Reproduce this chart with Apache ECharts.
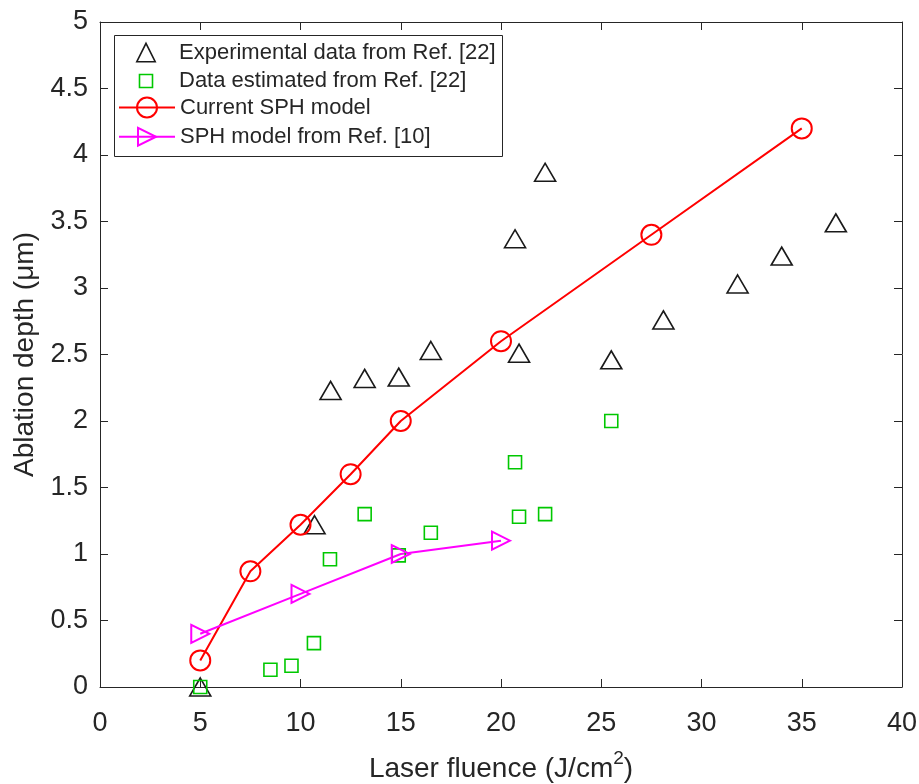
<!DOCTYPE html>
<html>
<head>
<meta charset="utf-8">
<script src="https://cdn.jsdelivr.net/npm/echarts@6/dist/echarts.min.js"></script>
<style>
  html, body { margin: 0; padding: 0; background: #fff; }
  #chart { width: 919px; height: 784px; }
</style>
</head>
<body>
<div id="chart"></div>
<script>
// Experimental data from Ref. [22]
const expX = [5, 10.7, 11.5, 13.2, 14.9, 16.5, 20.7, 20.9, 22.2, 25.5, 28.1, 31.8, 34.0, 36.7];
const expY = [0, 1.22, 2.23, 2.32, 2.33, 2.53, 3.37, 2.51, 3.87, 2.46, 2.76, 3.03, 3.24, 3.49];

// Data estimated from Ref. [22]
const estX = [5, 8.5, 9.55, 10.67, 11.47, 13.2, 14.9, 16.5, 20.7, 20.9, 22.2, 25.5];
const estY = [0, 0.13, 0.16, 0.33, 0.96, 1.30, 0.99, 1.16, 1.69, 1.28, 1.30, 2.0];

// Current SPH model
const sphX = [5, 7.5, 10, 12.5, 15, 20, 27.5, 35];
const sphY = [0.2, 0.87, 1.22, 1.6, 2.0, 2.6, 3.4, 4.2];

// SPH model from Ref. [10]
const refX = [5, 10, 15, 20];
const refY = [0.4, 0.7, 1.0, 1.1];

const names = [
  "Experimental data from Ref. [22]",
  "Data estimated from Ref. [22]",
  "Current SPH model",
  "SPH model from Ref. [10]"
];

const FONT = "Liberation Sans, Arial, sans-serif";
const AX = "#262626";
const zip = (xs, ys) => xs.map((x, i) => [x, ys[i]]);
const noLine = { width: 0, opacity: 0 };

function boxAxis(pos, extra) {
  return {
    type: "value",
    position: pos,
    axisLine: { show: true, onZero: false, lineStyle: { color: AX, width: 1 } },
    axisTick: { show: true, inside: true, length: 8, lineStyle: { color: AX } },
    splitLine: { show: false },
    axisLabel: { show: false },
    ...extra
  };
}

const xTicks = { min: 0, max: 40, interval: 5 };
const yTicks = { min: 0, max: 5, interval: 0.5 };

// one legend block per entry so each marker gets its own size
function legendAt(name, top, itemHeight, itemStyle, lineStyle) {
  return {
    data: [{ name, itemStyle, lineStyle }],
    left: 118,
    top,
    padding: 0,
    itemWidth: 56,
    itemHeight,
    selectedMode: false,
    textStyle: { fontFamily: FONT, fontSize: 22, color: AX }
  };
}

const chart = echarts.init(document.getElementById("chart"), null, { renderer: "canvas" });

chart.setOption({
  animation: false,
  backgroundColor: "#fff",
  grid: { left: 100, right: 17, top: 22, bottom: 97, outerBoundsMode: "none", containLabel: false },
  xAxis: [
    boxAxis("bottom", {
      ...xTicks,
      axisLabel: { show: true, margin: 23, fontSize: 27, color: AX, fontFamily: FONT },
      name: "Laser fluence (J/cm{sup|2})",
      nameLocation: "middle",
      nameGap: 62,
      nameTextStyle: {
        fontSize: 28, lineHeight: 40, color: AX, fontFamily: FONT,
        rich: { sup: { fontSize: 19, lineHeight: 14, color: AX, fontFamily: FONT, verticalAlign: "top" } }
      }
    }),
    boxAxis("top", { ...xTicks })
  ],
  yAxis: [
    boxAxis("left", {
      ...yTicks,
      axisLabel: { show: true, margin: 12, fontSize: 27, color: AX, fontFamily: FONT },
      name: "Ablation depth (\u03bcm)",
      nameLocation: "middle",
      nameGap: 58,
      nameTextStyle: { fontSize: 28, color: AX, fontFamily: FONT }
    }),
    boxAxis("right", { ...yTicks })
  ],
  graphic: [{
    type: "rect",
    z: 3,
    shape: { x: 114.5, y: 35.5, width: 388, height: 121 },
    style: { fill: "#fff", stroke: AX, lineWidth: 1 }
  }],
  legend: [
    legendAt(names[0], 41.5, 23,
      { color: "transparent", borderColor: "#1a1a1a", borderWidth: 1.6 }, noLine),
    legendAt(names[1], 70, 16.25,
      { color: "transparent", borderColor: "#00c800", borderWidth: 1.6 }, noLine),
    legendAt(names[2], 96.5, 25,
      { color: "transparent", borderColor: "#ff0000", borderWidth: 2 },
      { color: "#ff0000", width: 2 }),
    legendAt(names[3], 125.75, 22.5,
      { color: "transparent", borderColor: "#ff00ff", borderWidth: 2 },
      { color: "#ff00ff", width: 2 })
  ],
  series: [
    {
      name: names[0],
      type: "line",
      clip: false,
      data: zip(expX, expY),
      symbol: "triangle",
      symbolSize: [21, 18],
      showAllSymbol: true,
      lineStyle: noLine,
      itemStyle: { color: "transparent", borderColor: "#1a1a1a", borderWidth: 1.6 },
      emphasis: { disabled: true }
    },
    {
      name: names[1],
      type: "line",
      clip: false,
      data: zip(estX, estY),
      symbol: "rect",
      symbolSize: 13,
      showAllSymbol: true,
      lineStyle: noLine,
      itemStyle: { color: "transparent", borderColor: "#00c800", borderWidth: 1.6 },
      emphasis: { disabled: true }
    },
    {
      name: names[2],
      type: "line",
      clip: false,
      data: zip(sphX, sphY),
      symbol: "circle",
      symbolSize: 20,
      showAllSymbol: true,
      lineStyle: { color: "#ff0000", width: 2 },
      itemStyle: { color: "transparent", borderColor: "#ff0000", borderWidth: 2 },
      emphasis: { disabled: true }
    },
    {
      name: names[3],
      type: "line",
      clip: false,
      data: zip(refX, refY),
      symbol: "triangle",
      symbolRotate: -90,
      symbolSize: [18, 18],
      showAllSymbol: true,
      lineStyle: { color: "#ff00ff", width: 2 },
      itemStyle: { color: "transparent", borderColor: "#ff00ff", borderWidth: 2 },
      emphasis: { disabled: true }
    }
  ]
});
</script>
</body>
</html>
